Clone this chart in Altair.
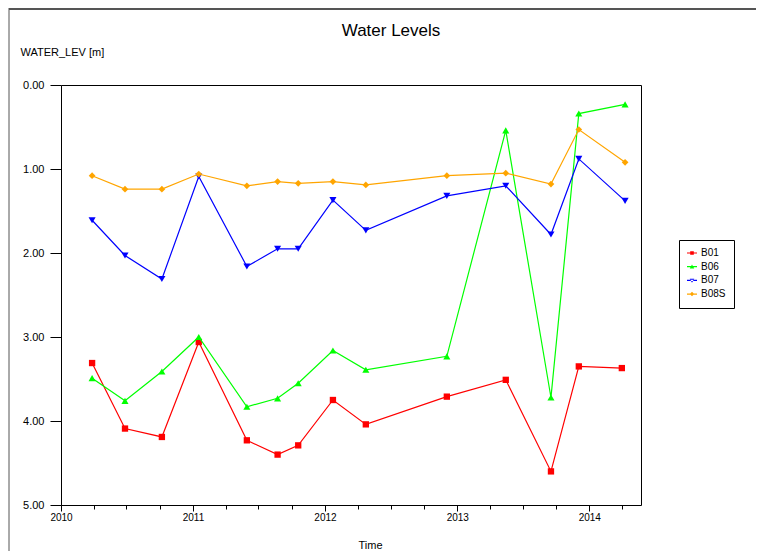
import altair as alt
import pandas as pd

FONT = "Liberation Sans"

series_names = ["B01", "B06", "B07", "B08S"]
dates = ["2010-03-28", "2010-06-27", "2010-10-07", "2011-01-17", "2011-05-30",
         "2011-08-23", "2011-10-19", "2012-01-23", "2012-04-23", "2012-12-03",
         "2013-05-15", "2013-09-17", "2013-12-03", "2014-04-10"]
b01_dates = dates[:-1] + ["2014-04-01"]

b01 = [3.31, 4.09, 4.19, 3.06, 4.23, 4.40, 4.29, 3.75, 4.04, 3.71, 3.51, 4.60, 3.35, 3.37]
b06 = [3.49, 3.76, 3.41, 3.00, 3.83, 3.73, 3.55, 3.16, 3.39, 3.23, 0.54, 3.72, 0.34, 0.23]
b07 = [1.61, 2.03, 2.31, 1.09, 2.16, 1.95, 1.95, 1.37, 1.73, 1.32, 1.20, 1.78, 0.88, 1.38]
b08s = [1.08, 1.24, 1.24, 1.06, 1.20, 1.15, 1.17, 1.15, 1.19, 1.08, 1.05, 1.18, 0.53, 0.92]

colors = ["#ff0000", "#00ff00", "#0000ff", "#ffa500"]
marker_shapes = ["square", "triangle-up", "triangle-down", "diamond"]
marker_sizes = [40, 50, 50, 45]
legend_paths = [
    "M-1,-0.12H1V0.12H-1Z M-0.36,-0.36H0.36V0.36H-0.36Z",
    "M-1,-0.12H1V0.12H-1Z M0,-0.45L0.45,0.35H-0.45Z",
    "M-1,-0.12H1V0.12H-1Z M0,0.45L0.45,-0.35H-0.45Z",
    "M-1,-0.12H1V0.12H-1Z M0,-0.45L0.45,0L0,0.45L-0.45,0Z",
]

y_ticks = [0, 1, 2, 3, 4, 5]
year_ticks = [2010, 2011, 2012, 2013, 2014]
quarter_ticks = [(y, m) for y in year_ticks for m in (1, 4, 7, 10) if (y, m) <= (2014, 4)]

rows = []
for name, ds, vals in zip(series_names, [b01_dates, dates, dates, dates], [b01, b06, b07, b08s]):
    for d, v in zip(ds, vals):
        rows.append({"series": name, "date": d, "value": v})
df = pd.DataFrame(rows)

xscale = alt.Scale(type="utc", domain=[alt.DateTime(year=2010, month=1, date=1, utc=True),
                                       alt.DateTime(year=2014, month=5, date=24, utc=True)], nice=False)

x_major = alt.X("date:T", scale=xscale, title="Time", axis=alt.Axis(
    orient="bottom",
    values=[alt.DateTime(year=y, month=1, date=1, utc=True) for y in year_ticks],
    format="%Y", labelFontSize=10, labelFont=FONT, labelColor="black", labelFlush=False,
    labelPadding=1, tickSize=6, tickColor="black", domain=False, grid=False,
    titleX=309, titleY=40, titleAlign="center", titleBaseline="middle",
    titleFontSize=11, titleFont=FONT, titleFontWeight="normal", titleColor="black"))

x_minor = alt.X("date:T", scale=xscale, axis=alt.Axis(
    orient="bottom",
    values=[alt.DateTime(year=y, month=m, date=1, utc=True) for y, m in quarter_ticks],
    labels=False, tickSize=4, tickColor="black", domain=False, grid=False, title=None))

x_none = alt.X("date:T", scale=xscale, axis=None)

y_enc = alt.Y("value:Q", scale=alt.Scale(domain=[0, 5], reverse=True, nice=False, zero=False),
              title="WATER_LEV [m]", axis=alt.Axis(
                  values=y_ticks, format=".2f", labelFontSize=11, labelFont=FONT,
                  labelColor="black", labelFlush=False, labelPadding=6, tickSize=11,
                  tickColor="black", domain=False, grid=False,
                  titleAngle=0, titleX=-41, titleY=-33, titleAlign="left", titleBaseline="middle",
                  titleFontSize=11, titleFont=FONT, titleFontWeight="normal", titleColor="black"))

layers = []
for i, (name, c, s, sz) in enumerate(zip(series_names, colors, marker_shapes, marker_sizes)):
    layers.append(
        alt.Chart(df).transform_filter(alt.datum.series == name).mark_line(
            color=c, strokeWidth=1.2,
            point=alt.OverlayMarkDef(filled=True, shape=s, size=sz, color=c, opacity=1)
        ).encode(x=x_minor if i == 0 else x_none, y=y_enc)
    )

legend_layer = alt.Chart(df).mark_point(filled=True, opacity=0, size=36).encode(
    x=x_major, y=y_enc,
    color=alt.Color("series:N", scale=alt.Scale(domain=series_names, range=colors),
                    legend=alt.Legend(title=None,
                                      labelExpr="datum.label + '\u00a0\u00a0\u00a0'")),
    shape=alt.Shape("series:N", scale=alt.Scale(domain=series_names, range=legend_paths)),
)

frame_df = pd.DataFrame({"k": [0]})
top_line = alt.Chart(frame_df).mark_rule(color="#555555", strokeWidth=2).encode(
    x=alt.value(-52), x2=alt.value(700), y=alt.value(-76))
left_line = alt.Chart(frame_df).mark_rule(color="#555555", strokeWidth=1).encode(
    x=alt.value(-52), y=alt.value(-77), y2=alt.value(480))

chart = alt.layer(*layers, legend_layer, top_line, left_line).resolve_axis(
    x="independent"
).properties(
    width=580, height=420, autosize="none",
    padding={"left": 53, "top": 77, "right": 115, "bottom": 46},
    title=alt.TitleParams(text="Water Levels", fontSize=17, font=FONT, fontWeight="normal",
                          color="black", anchor="middle", frame="group", dx=40, dy=40, offset=8),
).configure_view(stroke="black", strokeWidth=1).configure_legend(
    orient="none", legendX=618, legendY=155, padding=8, strokeColor="black", fillColor="white",
    labelFontSize=10, labelFont=FONT, labelColor="black", symbolSize=100, symbolOpacity=1,
    rowPadding=3.7, labelOffset=4, symbolStrokeWidth=0,
)

chart.save("out.html", embed_options={"renderer": "svg", "actions": False})
